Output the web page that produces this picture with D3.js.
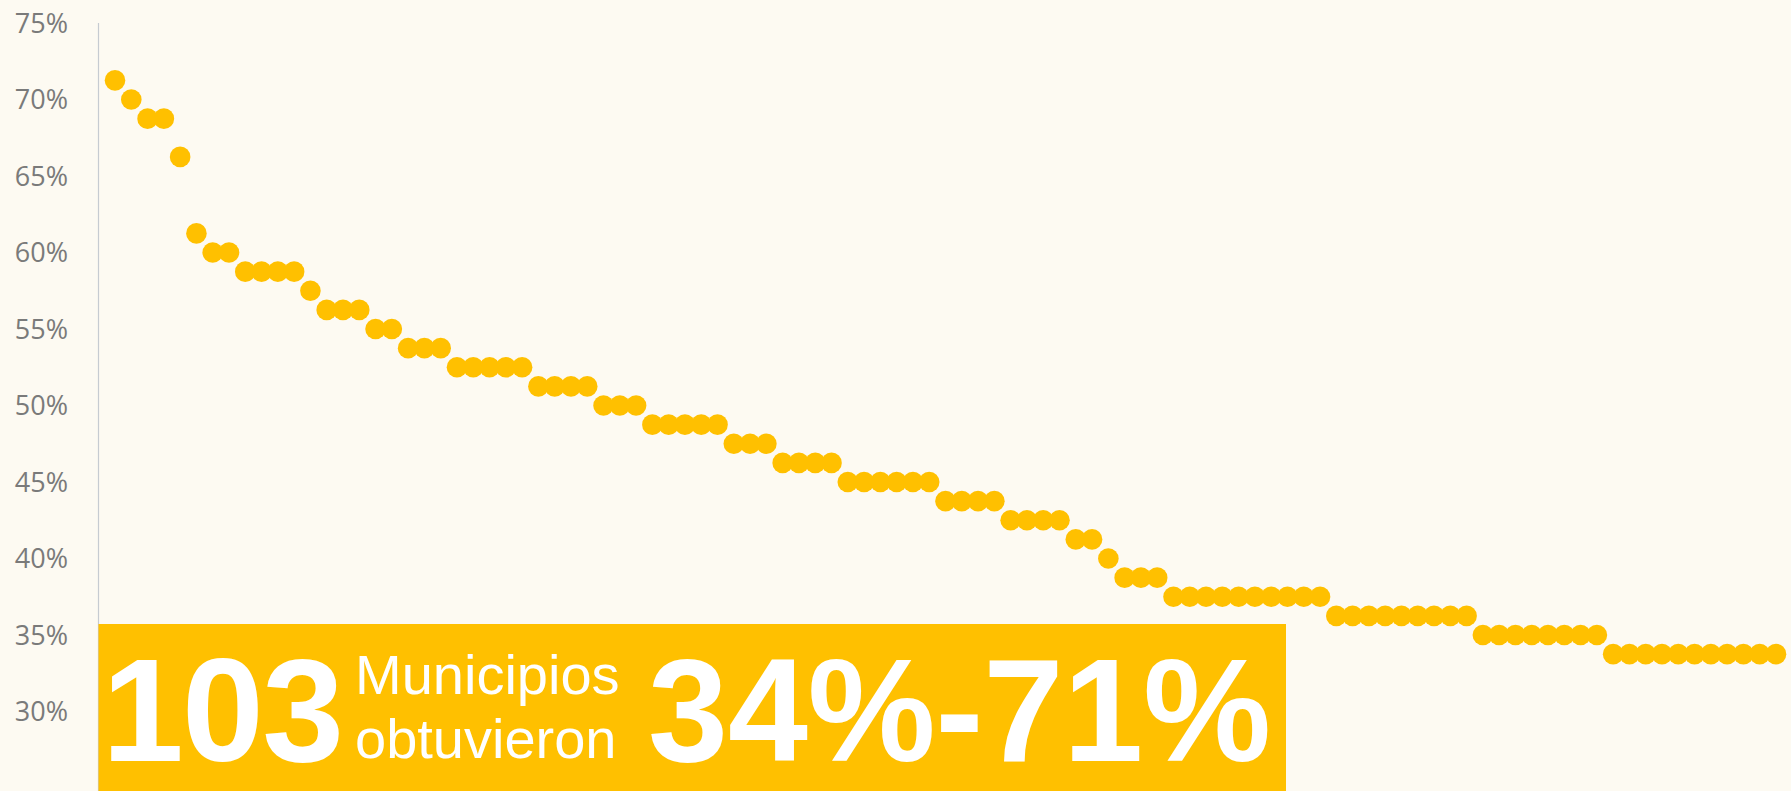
<!DOCTYPE html>
<html lang="es">
<head>
<meta charset="utf-8">
<title>Municipios</title>
<script src="https://d3js.org/d3.v7.min.js"></script>
<style>
body {
  margin: 0;
  background-color: #FDFAF2;
}
svg {
  display: block;
}
.tick-label {
  font-family: "Open Sans", sans-serif;
  font-size: 27px;
  fill: #7a7a7a;
}
.big {
  font-family: "Liberation Sans", Arial, sans-serif;
  font-weight: bold;
  font-size: 147px;
  fill: #fff;
}
.small {
  font-family: "Liberation Sans", Arial, sans-serif;
  font-size: 56px;
  fill: #fff;
}
</style>
</head>
<body>
<script>
// porcentaje por municipio, ordenado de mayor a menor
var values = [
  71.25, 70, 68.75, 68.75, 66.25,
  61.25, 60, 60, 58.75, 58.75, 58.75, 58.75, 57.5,
  56.25, 56.25, 56.25, 55, 55, 53.75, 53.75, 53.75,
  52.5, 52.5, 52.5, 52.5, 52.5, 51.25, 51.25, 51.25, 51.25,
  50, 50, 50, 48.75, 48.75, 48.75, 48.75, 48.75,
  47.5, 47.5, 47.5, 46.25, 46.25, 46.25, 46.25,
  45, 45, 45, 45, 45, 45, 43.75, 43.75, 43.75, 43.75,
  42.5, 42.5, 42.5, 42.5, 41.25, 41.25, 40,
  38.75, 38.75, 38.75,
  37.5, 37.5, 37.5, 37.5, 37.5, 37.5, 37.5, 37.5, 37.5, 37.5,
  36.25, 36.25, 36.25, 36.25, 36.25, 36.25, 36.25, 36.25, 36.25,
  35, 35, 35, 35, 35, 35, 35, 35,
  33.75, 33.75, 33.75, 33.75, 33.75, 33.75, 33.75, 33.75, 33.75, 33.75, 33.75
];
var yTicks = [30, 35, 40, 45, 50, 55, 60, 65, 70, 75];
var bigCount = "103";
var caption = ["Municipios", "obtuvieron"];
var range = "34%-71%";

var width = 1791, height = 791;
var axisX = 98.5;

var svg = d3.select("body").append("svg")
  .attr("width", width)
  .attr("height", height);

var x = d3.scalePoint()
  .domain(d3.range(values.length))
  .range([115, 1776]);

var y = d3.scaleLinear()
  .domain([25, 75])
  .range([788, 23]);

// eje vertical
svg.append("line")
  .attr("x1", axisX).attr("x2", axisX)
  .attr("y1", y(75)).attr("y2", height)
  .attr("stroke", "#c6cbd1")
  .attr("stroke-width", 1.2);

svg.append("g")
  .selectAll("text")
  .data(yTicks)
  .enter().append("text")
  .attr("class", "tick-label")
  .attr("x", 68)
  .attr("y", function(d) { return y(d); })
  .attr("dy", "0.36em")
  .attr("text-anchor", "end")
  .text(function(d) { return d + "%"; });

svg.append("g")
  .selectAll("circle")
  .data(values)
  .enter().append("circle")
  .attr("cx", function(d, i) { return x(i); })
  .attr("cy", function(d) { return y(d); })
  .attr("r", 10.3)
  .attr("fill", "#FFC000");

// recuadro
var box = svg.append("g");
box.append("rect")
  .attr("x", axisX)
  .attr("y", 624)
  .attr("width", 1286 - axisX)
  .attr("height", height - 624)
  .attr("fill", "#FFC000");

box.append("text")
  .attr("class", "big")
  .attr("x", 102)
  .attr("y", 761)
  .attr("textLength", 242)
  .attr("lengthAdjust", "spacing")
  .text(bigCount);

box.append("text")
  .attr("class", "small")
  .attr("x", 355)
  .attr("y", 694)
  .text(caption[0]);

box.append("text")
  .attr("class", "small")
  .attr("x", 355)
  .attr("y", 758)
  .text(caption[1]);

box.append("text")
  .attr("class", "big")
  .attr("x", 648)
  .attr("y", 761)
  .attr("textLength", 623)
  .attr("lengthAdjust", "spacingAndGlyphs")
  .text(range);
</script>
</body>
</html>
